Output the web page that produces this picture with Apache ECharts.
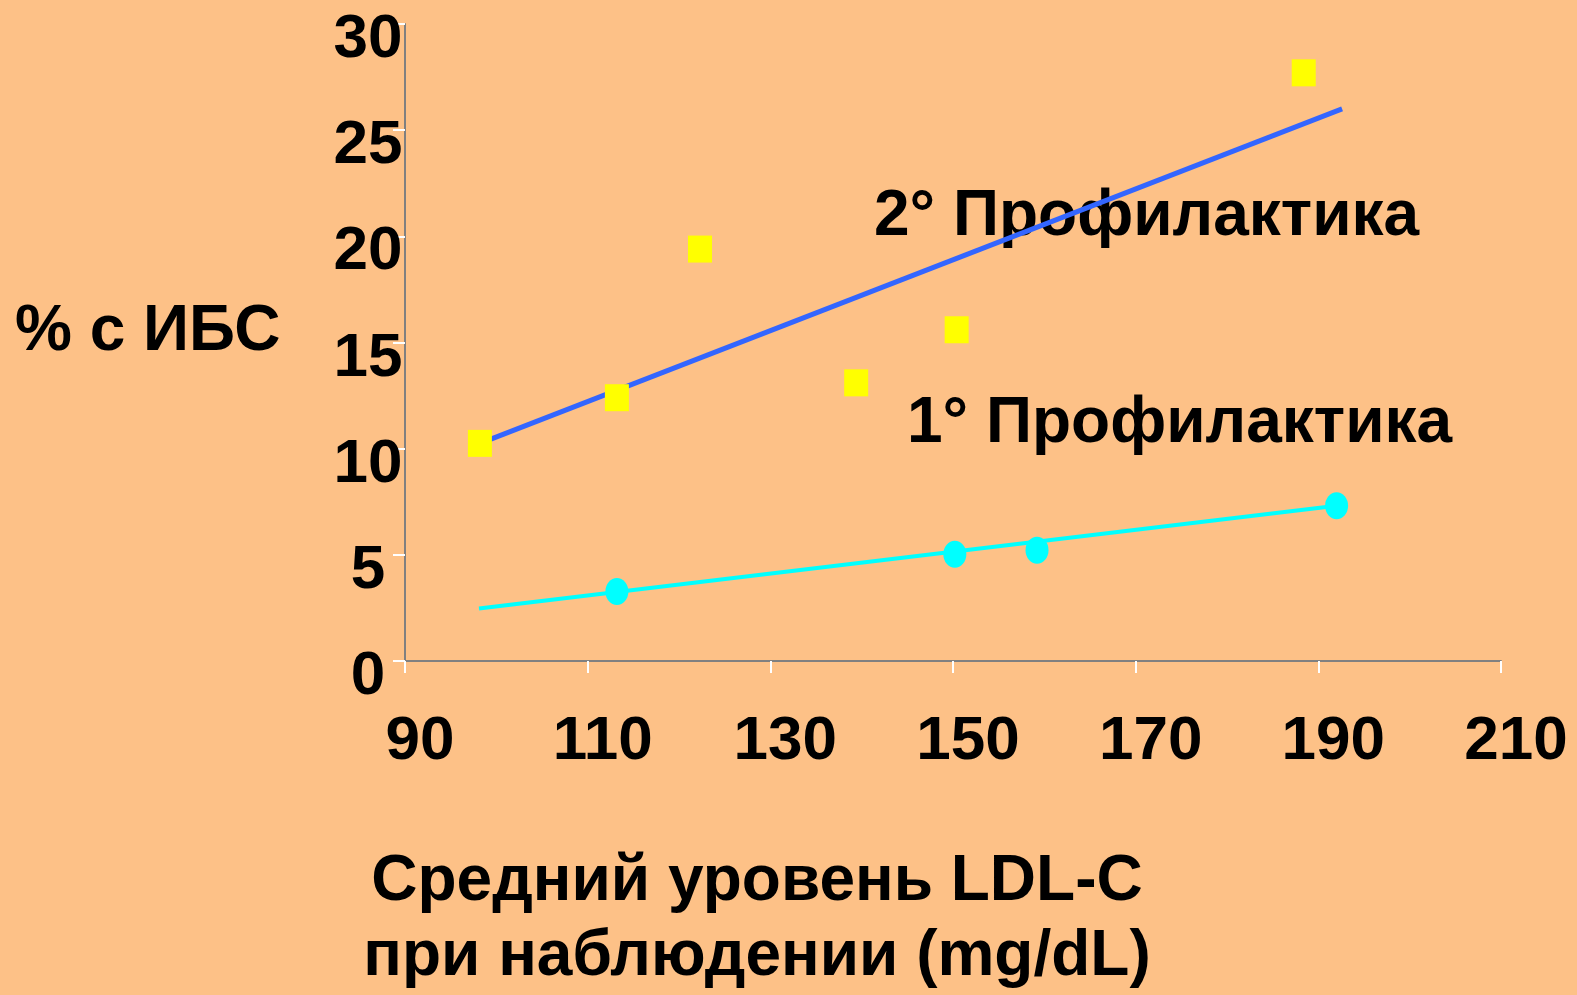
<!DOCTYPE html>
<html><head><meta charset="utf-8">
<script src="https://cdn.jsdelivr.net/npm/echarts@6/dist/echarts.min.js"></script>
<style>html,body{margin:0;padding:0;background:#FDC187;}#c{width:1577px;height:995px;}</style>
</head><body><div id="c"></div>
<script>
// Data
const secondaryPoints = [[98.2,10.25],[113.2,12.4],[122.3,19.4],[139.4,13.1],[150.4,15.6],[188.4,27.7]];
const secondaryTrend = [[98.2,10.25],[192.6,26.0]];
const primaryPoints = [[113.2,3.27],[150.2,5.03],[159.2,5.22],[192.0,7.31]];
const primaryTrend = [[98.1,2.47],[192.0,7.31]];
const xTicks = {min:90, max:210, interval:20};
const yTicks = {min:0, max:30, interval:5};
const labelSecondary = '2° Профилактика';
const labelPrimary = '1° Профилактика';
const yTitle = '% с ИБС';
const xTitle1 = 'Средний уровень LDL-C';
const xTitle2 = 'при наблюдении (mg/dL)';

const FONT = '"Liberation Sans", Arial, sans-serif';
const chart = echarts.init(document.getElementById('c'));
const txt = (s, x, y) => ({type:'text', left:x, top:y, style:{text:s, font:'bold 64px ' + FONT, fill:'#000'}});
chart.setOption({
  backgroundColor:'#FDC187',
  animation:false,
  grid:{left:405, right:76, top:24, bottom:334},
  xAxis:{type:'value', min:xTicks.min, max:xTicks.max, interval:xTicks.interval,
    axisLine:{show:true, onZero:false, lineStyle:{color:'#808080', width:2}},
    axisTick:{show:true, length:12, lineStyle:{color:'#ffffff', width:2}},
    splitLine:{show:false},
    axisLabel:{margin:50, fontSize:62, fontWeight:'bold', fontFamily:FONT, color:'#000', padding:[0,0,0,30], showMaxLabel:true, showMinLabel:true}},
  yAxis:{type:'value', min:yTicks.min, max:yTicks.max, interval:yTicks.interval,
    axisLine:{show:true, lineStyle:{color:'#808080', width:2}},
    axisTick:{show:true, length:12, lineStyle:{color:'#ffffff', width:2}},
    splitLine:{show:false},
    axisLabel:{margin:37, align:'center', verticalAlign:'top', lineHeight:32, fontSize:62, fontWeight:'bold', fontFamily:FONT, color:'#000'}},
  series:[
    {type:'line', data:secondaryTrend, symbol:'none', lineStyle:{color:'#3366FF', width:5}, z:2},
    {type:'line', data:primaryTrend, symbol:'none', lineStyle:{color:'#00FFFF', width:4}, z:2},
    {type:'scatter', data:secondaryPoints, symbol:'rect', symbolSize:[24,27], itemStyle:{color:'#FFFF00', opacity:1}, z:3},
    {type:'scatter', data:primaryPoints, symbol:'circle', symbolSize:[23,27], itemStyle:{color:'#00FFFF', opacity:1}, z:3}
  ],
  graphic:[
    txt(labelSecondary, 874, 185),
    txt(labelPrimary, 907, 392),
    txt(yTitle, 15, 300),
    {type:'text', x:757, y:850, style:{text:xTitle1, font:'bold 64px ' + FONT, fill:'#000', align:'center'}},
    {type:'text', x:757, y:925, style:{text:xTitle2, font:'bold 64px ' + FONT, fill:'#000', align:'center'}}
  ]
});
</script></body></html>
